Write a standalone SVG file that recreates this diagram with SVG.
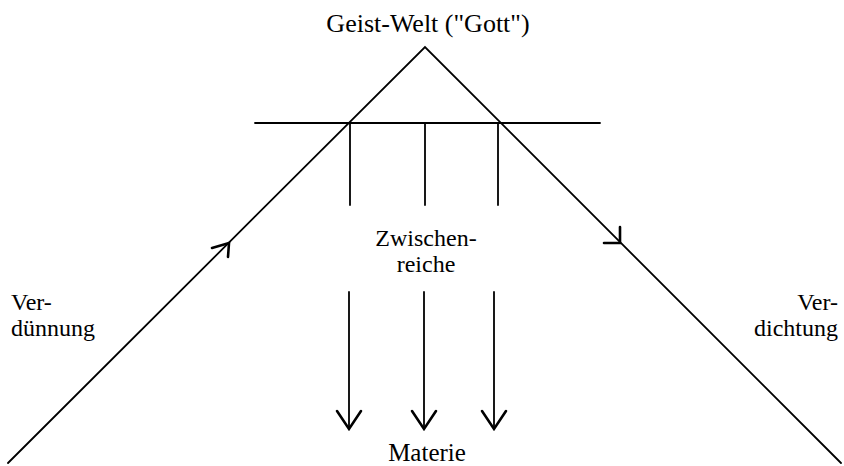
<svg xmlns="http://www.w3.org/2000/svg" width="844" height="466" viewBox="0 0 844 466">
<style>
.ln{stroke:#000;stroke-width:1.8;fill:none;stroke-linecap:round}
.ah{stroke:#000;stroke-width:2.6;fill:none;stroke-linecap:round;stroke-linejoin:miter}
.t{font-family:"Liberation Serif","Times New Roman",serif;font-size:24px;fill:#000}
</style>
<rect width="844" height="466" fill="#fff"/>
<g id="connectors">
<path class="ln" d="M8,463 L425,47 L841,463"/>
<path class="ln" d="M255,123 H600"/>
<path class="ln" d="M350,123 V205 M425,123 V205 M498,123 V205"/>
<path class="ln" d="M349,292 V428 M424,292 V428 M494,292 V428"/>
<path class="ah" d="M337,411 L349,429 L361,411 M412,411 L424,429 L436,411 M482,411 L494,429 L506,411"/>
<path class="ah" d="M212,248 L229,243 L228,257"/>
<path class="ah" d="M620,227 L620,243 L604,243"/>
</g>
<g id="geist"><text class="t" x="428" y="32" text-anchor="middle" style="font-size:26px">Geist-Welt ("Gott")</text></g>
<g id="zwischenreiche"><text class="t" x="426" y="246" text-anchor="middle">Zwischen-</text><text class="t" x="426" y="272" text-anchor="middle">reiche</text></g>
<g id="materie"><text class="t" x="427" y="461" text-anchor="middle" style="font-size:25px">Materie</text></g>
<g id="verduennung"><text class="t" x="11" y="310">Ver-</text><text class="t" x="11" y="336">dünnung</text></g>
<g id="verdichtung"><text class="t" x="838" y="310" text-anchor="end">Ver-</text><text class="t" x="838" y="336" text-anchor="end">dichtung</text></g>
</svg>
